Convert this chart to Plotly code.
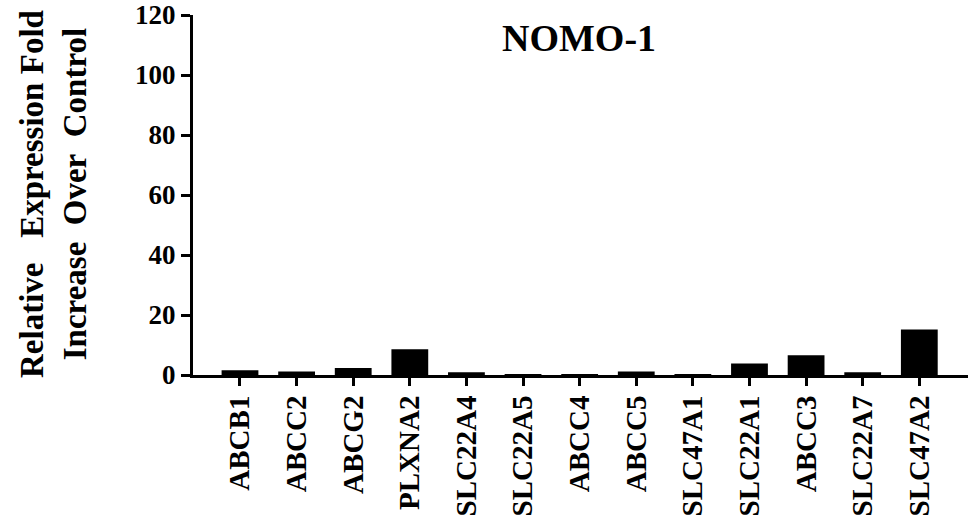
import plotly.graph_objects as go

genes = ["ABCB1", "ABCC2", "ABCG2", "PLXNA2", "SLC22A4", "SLC22A5", "ABCC4",
         "ABCC5", "SLC47A1", "SLC22A1", "ABCC3", "SLC22A7", "SLC47A2"]
fold_change = [1.6, 1.2, 2.3, 8.6, 0.9, 0.2, 0.1, 1.2, 0.1, 3.8, 6.6, 0.9, 15.2]
y_ticks = [0, 20, 40, 60, 80, 100, 120]

FONT = "Liberation Serif"
NB = "\u00a0"

fig = go.Figure(go.Bar(
    x=list(range(len(genes))),
    y=fold_change,
    width=0.65,
    marker=dict(color="black", line=dict(width=0)),
))

fig.update_layout(
    width=980, height=519,
    margin=dict(l=193, r=12, t=15, b=144),
    plot_bgcolor="white", paper_bgcolor="white",
    showlegend=False,
    font=dict(family=FONT, size=24, color="black"),
)

fig.update_xaxes(
    range=[-0.83, 12.86],
    tickmode="array",
    tickvals=list(range(len(genes))),
    ticktext=[f"<b>{g}</b>" for g in genes],
    tickangle=-90,
    ticks="outside", ticklen=8, tickwidth=3, tickcolor="black",
    ticklabelstandoff=-2,
    showline=True, linewidth=3, linecolor="black",
    showgrid=False, zeroline=False, automargin=False,
    tickfont=dict(family=FONT, size=29, color="black"),
)

fig.update_yaxes(
    range=[0, 120],
    tickmode="array",
    tickvals=y_ticks,
    ticktext=[f"<b>{v}</b>" for v in y_ticks],
    ticks="outside", ticklen=9, tickwidth=3, tickcolor="black",
    showline=True, linewidth=3, linecolor="black",
    showgrid=False, zeroline=False, automargin=False,
    tickfont=dict(family=FONT, size=27, color="black"),
)

# Chart title
fig.add_annotation(
    text="<b>NOMO-1</b>", xref="paper", yref="paper",
    x=(579 - 193) / 775, y=(375 - 38) / 360, xanchor="center", yanchor="middle",
    showarrow=False, font=dict(family=FONT, size=38, color="black"),
)

# Y-axis title (two lines)
fig.add_annotation(
    text=(f"<b>Relative{NB}{NB} Expression Fold</b><br>"
          f"<b>Increase{NB} Over{NB} Control</b>"),
    xref="paper", yref="paper",
    x=(53 - 193) / 775, y=(375 - 194) / 360, xanchor="center", yanchor="middle",
    textangle=-90, showarrow=False,
    font=dict(family=FONT, size=33, color="black"),
)

fig.write_html("out.html")
